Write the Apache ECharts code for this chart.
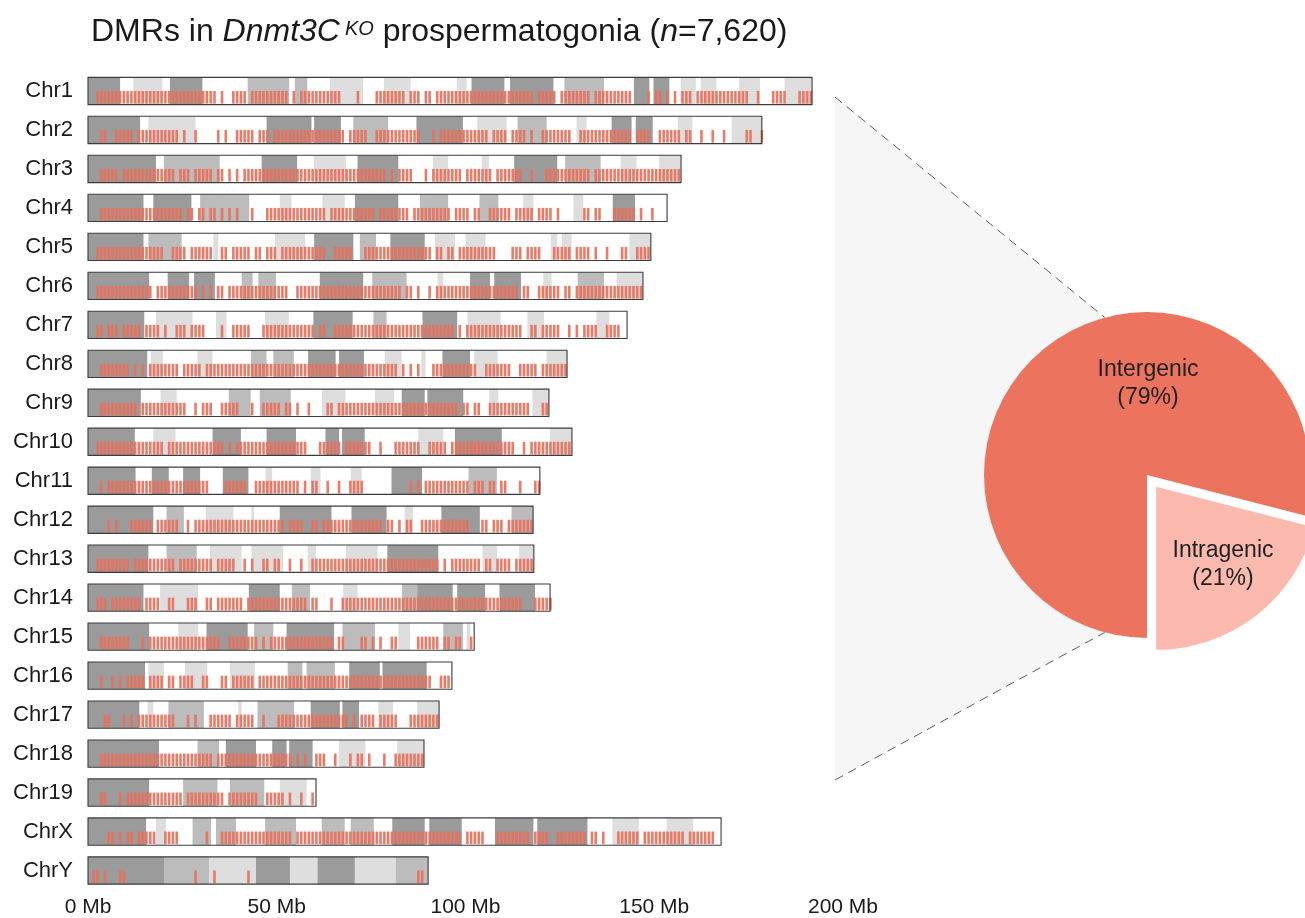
<!DOCTYPE html>
<html>
<head>
<meta charset="utf-8">
<title>DMRs in Dnmt3C KO prospermatogonia</title>
<script src="https://cdn.jsdelivr.net/npm/echarts@6/dist/echarts.min.js"></script>
<style>
  html, body { margin: 0; padding: 0; background: #ffffff; }
  #chart { width: 1305px; height: 918px; }
</style>
</head>
<body>
<div id="chart"></div>
<script>
// ---- Data -------------------------------------------------------------

const chromosomes = ['Chr1','Chr2','Chr3','Chr4','Chr5','Chr6','Chr7','Chr8','Chr9','Chr10',
  'Chr11','Chr12','Chr13','Chr14','Chr15','Chr16','Chr17','Chr18','Chr19','ChrX','ChrY'];

// chromosome lengths (Mb)
const chrLengthsMb = [191.8, 178.5, 157.1, 153.4, 149.1, 147.0, 142.8, 126.9, 122.1, 128.2,
  119.7, 117.9, 118.1, 122.4, 102.3, 96.4, 93.0, 89.0, 60.4, 167.7, 90.1];

// cytobands: [start Mb, end Mb, stain]  d = dark, m = medium, l = light (unlisted = white)
const chrBands = [
  [[0,8.5,'d'],[12,19.7,'l'],[21.7,30.3,'d'],[42.3,53.3,'m'],[54.8,58.1,'m'],[64.1,72.9,'l'],[78.4,85.5,'l'],[97.7,100.3,'l'],[101.6,110.3,'d'],[111.8,123.3,'d'],[126.2,136.7,'m'],[144.6,148.7,'d'],[149.8,154,'d'],[157,161,'l'],[162.3,166.5,'l'],[172.5,178,'l'],[184.5,191.8,'l']],
  [[0,13.8,'d'],[16,28.5,'l'],[47.3,59.2,'d'],[59.9,67,'d'],[70.3,79.5,'m'],[87,99.3,'d'],[103.1,110.9,'l'],[113.8,121.5,'m'],[129.4,132.1,'l'],[138.7,144,'d'],[145.1,149.6,'d'],[156.2,160.1,'l'],[170.5,178.5,'l']],
  [[0,18,'d'],[20.1,34.9,'m'],[46,55.4,'d'],[59.8,68.3,'l'],[71.4,82.2,'d'],[91.4,95.4,'l'],[104.3,106.2,'l'],[112.9,124.3,'d'],[126.4,135.8,'m'],[141.1,145.3,'l'],[151.3,157.1,'l']],
  [[0,14.7,'d'],[17.3,27.4,'d'],[29.7,42.7,'m'],[50.8,53.9,'l'],[62.1,68,'l'],[70.7,82.2,'d'],[87.9,95.4,'m'],[103.7,108.7,'m'],[115.3,118,'l'],[128.6,131.2,'l'],[139,144.9,'d']],
  [[0,14.7,'d'],[16,24.8,'m'],[33.2,34.5,'l'],[49.5,57.5,'l'],[59.9,70.3,'d'],[72,76.3,'m'],[80.1,89.2,'d'],[91.9,97.2,'l'],[100,105.3,'l'],[122.6,124.3,'l'],[125.5,128.1,'l'],[143.4,149.1,'l']],
  [[0,16.2,'d'],[21.1,26.8,'d'],[28.1,33.6,'d'],[40.7,43.6,'m'],[45.1,49.8,'m'],[61.4,72.9,'d'],[75.3,84.4,'m'],[92.6,94.1,'l'],[101.2,106.5,'d'],[107.6,114.7,'d'],[120.6,122.8,'l'],[129.7,136.7,'m'],[140,147,'l']],
  [[0,14.9,'d'],[18,27.7,'l'],[33.9,36.7,'l'],[46.9,53.2,'l'],[59.7,70.1,'d'],[75.6,79.1,'m'],[88.6,97.8,'d'],[100.5,109.3,'l'],[116.4,120.8,'l'],[134.7,138.1,'l']],
  [[0,15.7,'d'],[16.6,19.8,'l'],[29,33,'l'],[43.2,47.3,'m'],[49.1,54.5,'m'],[58.3,65.6,'d'],[66.5,73.1,'d'],[78.6,83.1,'l'],[88.3,89.4,'l'],[93.9,101.2,'d'],[102.3,108.5,'l'],[121.5,126.9,'l']],
  [[0,14,'d'],[19.2,23.5,'l'],[37.3,43.1,'m'],[45.5,53.7,'m'],[62,68.2,'l'],[76,81.1,'l'],[83.1,89.2,'d'],[89.9,99.4,'d'],[106.3,108.7,'l'],[117.7,122.1,'l']],
  [[0,12.4,'d'],[17.3,23.2,'l'],[33,40.5,'d'],[47.3,55.1,'d'],[62.9,66.5,'d'],[67.3,73.3,'d'],[87.5,94.1,'l'],[97.2,109.6,'d'],[122.4,128.2,'l']],
  [[0,12.6,'d'],[16.9,21.4,'d'],[25.2,29.7,'d'],[35.7,42.5,'d'],[47,48.8,'l'],[59,61.6,'l'],[69.6,72.5,'l'],[80.4,88.5,'d'],[100.8,108.3,'m']],
  [[0,17.3,'d'],[20.8,25.4,'m'],[31.2,38.5,'l'],[43.3,44,'l'],[50.8,64.5,'d'],[69.8,79.1,'d'],[83.9,86.1,'l'],[93.6,103.8,'d'],[112.2,117.9,'m']],
  [[0,16,'d'],[20.8,28.8,'m'],[32.3,40.7,'l'],[43.3,51.7,'l'],[58.2,60.4,'l'],[68.3,76.7,'l'],[79.3,92.8,'d'],[104.5,108.4,'l'],[114.2,118.1,'l']],
  [[0,14.7,'d'],[19.1,29.2,'l'],[42.6,50.8,'d'],[54,58.8,'m'],[67.6,71.4,'l'],[83.2,87.2,'m'],[87.2,96.6,'d'],[97.8,105.2,'d'],[109,118.4,'d']],
  [[0,16.2,'d'],[23.9,29.2,'l'],[31.4,42.3,'d'],[44,49.1,'m'],[52.6,65.2,'d'],[67.4,76,'m'],[82.2,85.3,'l'],[94.1,99.3,'m'],[100.3,101.3,'l']],
  [[0,15.1,'d'],[16,20.1,'l'],[25.7,31.6,'l'],[37.6,44.2,'l'],[52.9,56.8,'m'],[57.9,65.4,'m'],[69.2,77.3,'d'],[78,89.7,'d']],
  [[0,13.6,'d'],[15.8,17.3,'l'],[21.3,30.7,'m'],[39.8,40.7,'l'],[44.9,54.6,'m'],[59,66.7,'d'],[67.4,71.8,'d'],[76.9,80.8,'l'],[87.2,93,'l']],
  [[0,18.8,'d'],[29,34.7,'m'],[36.5,44.5,'d'],[48.8,52.6,'d'],[53.3,59.5,'d'],[66.5,73.5,'l'],[81.9,89,'l']],
  [[0,16.2,'d'],[25.2,34.3,'m'],[37.6,46.7,'m'],[50.8,57.9,'l']],
  [[0,15.4,'d'],[18,20.7,'l'],[27.7,32.6,'m'],[33.9,39.2,'m'],[46.9,55.1,'m'],[61.9,68,'m'],[69.6,75.7,'m'],[80.6,89.2,'d'],[90.4,99,'d'],[107.8,118,'d'],[119,132.3,'d'],[138.9,145.9,'l'],[153.3,160.3,'l']],
  [[0,20.3,'d'],[20.3,32.1,'m'],[32.1,44.5,'l'],[44.5,53.5,'d'],[53.5,60.8,'l'],[60.8,70.7,'d'],[70.7,81.5,'l'],[81.5,90.1,'m']]
];

// DMR tracks: one character per 1-Mb bin ('|' = DMR, '.' = none), grouped by 10 Mb
const dmrTracks = [
  '..|||||||| |||||||||| |||||||||| ||||.|..|| ||.||||||| |||.|.|||| |||||||... .|....|||| ||||.|||.| |.|||||||| |||||||||| ||||||||.| ||||.||||| |||.|||||| ||||....|. ||.|.|.||| .||||||||| |||||..|.. .||||...|| ||',
  '...||..||| ||.||||||| ||||.|..|. ....|.|..| ||||.|||.| |||||||||| ||||||||.| ||||..|||| ||||||||.. .|.||||||| ||||||.||| |.||||.|.. ||||||||.. |||||||||| ||||.||||. .||||||.|| ..|..|..|. ....||..|',
  '...|||||.| |||||||||| |||.|||.|| |||.||.|.| .||||||||| |||||||||| |||||||||| |||||||||. |.||||...| .||||||||. |||||||.|| |||||..|.. .||||||||| |||.|||||| |||||||||| |||||||',
  '...||||||| |||||||||| |||||.||.| |.||.|.|.| ...|...||| |||||||||| |||.|||||| ||||||.||| |||||.|||| ||||||.||| |.||..|||| ||.|||||.| |||.|..... .||.||...| |||||.|..| ....',
  '..|||||||| |||||||||| ..||||.||| |||..||.|| |||.||.||| .||||||||| |||..||||| ...||||||| |||||||||| |.||.||.|| ||||||||.. ..|||.|||| ...|||||.| |||.|..|.. .||..||||',
  '..|||||||| |||||||.|| |||||||||. |.|.||.||| |||||||||| |||..||||| |||||||||| |||||||||| |||.||.|.. |.|||||||| |||||||||| ||||.||..| |||||.||.| |||||||||| |||||||',
  '..||.|||.| ||||.||||. |..|||.||| |....|..|| |||...|||| |||||||||| .||..||||| |||||||||| |||||||||| |||||||.|. |||||||||| |||||..||. |||||..|.| .||||..||| |..',
  '...||||||| |.|.|.|||| ||||.||||| .||||||||| |||||||||| |||||||||| |||||||||| |||||||||| ||.|.|.|.. .||||||||| |||..||||| ||..|||||. |||||||',
  '...||||||| |||.|||||| ||||||..|. |||..||||| ...|..|||| |.||.|..|. ...||.|||| |||||||||| |||||||||| ||||||||.| |.||..|||| |||||||... ||',
  '..|||||||| |||||||||| .||||||||| ||||||.|.| |||||||||| ||||||||.. .||||||.|| |||||..|.. .|||||||.. |||||.|||| |||||||||| |||..|.||| ||||||||',
  '...|.||||| |||||||||| |||||||||| ||....|||| ||..|||||| ||||||.|.| |..|..|..| |||....... .....|.|.| |||||||||| |.|||.||.| |...|...||',
  '.....|.|.. .||||||.|| ||||..|.|| |||||||||| |||||||||| ||.||||..| |.|||||||| ||||||||.| |.|.||..|| |||||||||| |...||.||| .|||||||',
  '..|||||||| |.|||||||| |||.|||||| |||.|||||. .|.|..||.| |..|..|..| |||||||||| |||||||||| |||||||||| |||.|.|||| ||||.||.|| ||.|||||',
  '..|||.|||| ||||.||||. .||...|||. .||.|||||| |.|||||||| ||||||||.| |...|..||| |||||||||| |||||||||| |||||||||| |||||||||| |||||...|| |||',
  '...||||||| |...|.|||| |||||||||| |||||..||| |||||.|.|| |||||||||| |||||.||.. ..||.|.|.. ||.....||| |||.||.||. .|',
  '...|..|.|. |||||.|||| .||.||||.. ||...||.|| ||||.||||| |||||||||| |||||||||| |||||||||| |||||||||| |..|||',
  '....||...| .|.||||||| |||...|.|. ..||||||.| ||||..|... |||||||||| |||||||||. |.||||.||| ||...||||| |||',
  '...||||||| |||||||||| |||||||||| |||.|||||| |||||||||| ||||.|.|.. |||..|...| .||.|...|. .||||||||',
  '...||...|. |||||||||| |||||.|||| ||||||.||| |||||..||| ||.|..|..|',
  '.....||.|. ||.|||||.. ||||...... .|...||||| |||||||||| ||||.||||| |||||||||| |||||||||| |||||||||| |||||||||. |||||...|| |||||||.|| ||..|||||| ||.||.|... ||||||.||| ||||||||.| ||||||..',
  '.||.|...|| .......... ........|. ...|...... ..|....... .......... .......... .......... .......||.'
];

const axisTicksMb = [0, 50, 100, 150, 200];

const pieCategories = ['Intergenic', 'Intragenic'];
const piePercents = [79, 21];

// ---- Styling ----------------------------------------------------------

const FONT = "'Liberation Sans', Arial, Helvetica, sans-serif";
const STAIN = { d: '#9b9b9b', m: '#bcbcbc', l: '#dedede' };
const DMR_COLOR = '#ea6f59';
const PIE_COLORS = ['#ec735e', '#fcb9ae'];
const PIE_CX = 1147, PIE_CY = 475, PIE_R = 163;
const PIE_START = 270;          // degrees, first slice starts at the bottom and runs clockwise
const EXPLODE = 15;             // px the Intragenic slice is pulled out
const LABEL_OFFSETS = [[1, -91], [76, 90]];

// direction of the exploded slice (its bisector)
const explodeMid = (PIE_START - 360 * (piePercents[0] + piePercents[1] / 2) / 100) * Math.PI / 180;
const explodeCenter = [PIE_CX + EXPLODE * Math.cos(explodeMid), PIE_CY - EXPLODE * Math.sin(explodeMid)];

// zoom wedge from the genome panel to the pie
const WEDGE_X = 835, WEDGE_TOP = 97, WEDGE_BOTTOM = 780;
const WEDGE_ANGLE = 75 * Math.PI / 180;
const touchTop = [PIE_CX - PIE_R * Math.cos(WEDGE_ANGLE), PIE_CY - PIE_R * Math.sin(WEDGE_ANGLE)];
const touchBottom = [PIE_CX - PIE_R * Math.cos(WEDGE_ANGLE), PIE_CY + PIE_R * Math.sin(WEDGE_ANGLE)];

function renderChromosome(params, api) {
  const len = api.value(0);
  const idx = api.value(1);
  const rowH = api.size([0, 1])[1];
  const boxH = rowH * 0.7;
  const start = api.coord([0, idx]);
  const x0 = start[0], yc = start[1];
  const x1 = api.coord([len, idx])[0];
  const top = yc - boxH / 2;
  const children = [{
    type: 'rect', shape: { x: x0, y: top, width: x1 - x0, height: boxH },
    style: { fill: '#ffffff' }
  }];
  chrBands[idx].forEach(function (b) {
    const xs = api.coord([b[0], idx])[0];
    const xe = api.coord([b[1], idx])[0];
    children.push({
      type: 'rect', shape: { x: xs, y: top, width: xe - xs, height: boxH },
      style: { fill: STAIN[b[2]] }
    });
  });
  const track = dmrTracks[idx].replace(/ /g, '');
  for (let k = 0; k < track.length; k++) {
    if (track[k] !== '|') continue;
    const x = api.coord([k + 0.5, idx])[0];
    children.push({
      type: 'line', shape: { x1: x, y1: yc, x2: x, y2: top + boxH - 1 },
      style: { stroke: DMR_COLOR, lineWidth: 2.6, opacity: 0.92 }
    });
  }
  children.push({
    type: 'rect', shape: { x: x0, y: top, width: x1 - x0, height: boxH },
    style: { fill: 'none', stroke: '#3c3c3c', lineWidth: 1.1 }
  });
  return { type: 'group', children: children };
}

// one pie layer per slice so that one of them can be drawn pulled out of the circle
function pieLayer(visibleIndex, center) {
  return {
    type: 'pie', z: 5, silent: true,
    center: center, radius: PIE_R,
    startAngle: PIE_START, clockwise: true,
    avoidLabelOverlap: false,
    emphasis: { disabled: true },
    itemStyle: { borderWidth: 0 },
    label: {
      position: 'inside', fontFamily: FONT, fontSize: 23, lineHeight: 28, color: '#1f1f1f',
      formatter: function (p) { return p.name + '\n(' + Math.round(p.percent) + '%)'; }
    },
    labelLine: { show: false },
    labelLayout: function (p) {
      const off = LABEL_OFFSETS[p.dataIndex];
      return { x: PIE_CX + off[0], y: PIE_CY + off[1], align: 'center', verticalAlign: 'middle' };
    },
    data: pieCategories.map(function (name, i) {
      const shown = i === visibleIndex;
      return {
        name: name, value: piePercents[i],
        itemStyle: { color: shown ? PIE_COLORS[i] : 'rgba(0,0,0,0)' },
        label: { show: shown }
      };
    })
  };
}

const chart = echarts.init(document.getElementById('chart'), null, { renderer: 'canvas' });

const titleRich = {
  a: { fontFamily: FONT, fontSize: 32, fontWeight: 'normal', color: '#1a1a1a', lineHeight: 40 },
  i: { fontFamily: FONT, fontSize: 32, fontWeight: 'normal', color: '#1a1a1a', fontStyle: 'italic', lineHeight: 40 },
  s: { fontFamily: FONT, fontSize: 20, fontWeight: 'normal', color: '#1a1a1a', fontStyle: 'italic',
       verticalAlign: 'top', lineHeight: 22, padding: [7, 0, 0, 5] }
};

chart.setOption({
  animation: false,
  backgroundColor: '#ffffff',
  title: {
    left: 86, top: 7,
    text: '{a|DMRs in }{i|Dnmt3C}{s|KO}{a| prospermatogonia (}{i|n}{a|=7,620)}',
    textStyle: { fontWeight: 'normal', rich: titleRich }
  },
  grid: { left: 88, top: 71.5, width: 755, height: 819, containLabel: false },
  xAxis: {
    type: 'value', min: axisTicksMb[0], max: axisTicksMb[axisTicksMb.length - 1],
    interval: axisTicksMb[1] - axisTicksMb[0],
    axisLine: { show: false }, axisTick: { show: false }, splitLine: { show: false },
    axisLabel: { formatter: '{value} Mb', fontFamily: FONT, fontSize: 21, color: '#1a1a1a', margin: 7 }
  },
  yAxis: {
    type: 'category', data: chromosomes, inverse: true,
    axisLine: { show: false }, axisTick: { show: false }, splitLine: { show: false },
    axisLabel: { fontFamily: FONT, fontSize: 22, color: '#1a1a1a', margin: 15 }
  },
  graphic: [
    {
      type: 'polygon', z: 0, silent: true,
      shape: { points: [[WEDGE_X, WEDGE_TOP], touchTop, [PIE_CX, PIE_CY], touchBottom, [WEDGE_X, WEDGE_BOTTOM]] },
      style: { fill: '#f6f6f6' }
    },
    {
      type: 'line', z: 1, silent: true,
      shape: { x1: WEDGE_X, y1: WEDGE_TOP, x2: touchTop[0], y2: touchTop[1] },
      style: { stroke: '#5e5e5e', lineWidth: 1, lineDash: [9, 6] }
    },
    {
      type: 'line', z: 1, silent: true,
      shape: { x1: WEDGE_X, y1: WEDGE_BOTTOM, x2: touchBottom[0], y2: touchBottom[1] },
      style: { stroke: '#5e5e5e', lineWidth: 1, lineDash: [9, 6] }
    }
  ],
  series: [
    {
      type: 'custom',
      renderItem: renderChromosome,
      data: chromosomes.map(function (c, i) { return [chrLengthsMb[i], i]; }),
      encode: { x: 0, y: 1 },
      silent: true
    },
    pieLayer(0, [PIE_CX, PIE_CY]),
    pieLayer(1, explodeCenter)
  ]
});
</script>
</body>
</html>
